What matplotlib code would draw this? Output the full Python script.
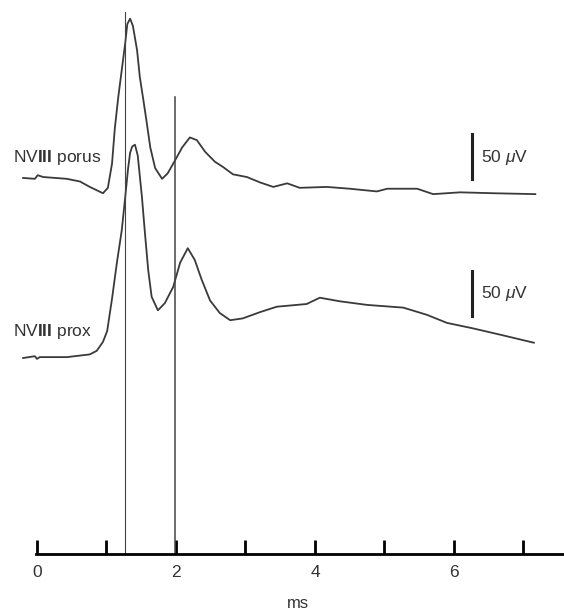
import matplotlib.pyplot as plt
import numpy as np

plt.rcParams['font.family'] = ['Liberation Sans', 'DejaVu Sans']
plt.rcParams['mathtext.fontset'] = 'custom'
plt.rcParams['mathtext.rm'] = 'Liberation Sans'
plt.rcParams['mathtext.it'] = 'Liberation Sans:italic'
plt.rcParams['mathtext.bf'] = 'Liberation Sans:bold'

# traces: time (ms) and amplitude (uV, relative to each trace's start)
porus_t = [-0.20, -0.03, 0.01, 0.09, 0.43, 0.62, 0.76, 0.95, 1.02, 1.08,
           1.12, 1.17, 1.22, 1.27, 1.30, 1.34, 1.38, 1.44, 1.48, 1.53,
           1.58, 1.63, 1.70, 1.80, 1.88, 1.99, 2.09, 2.20, 2.30, 2.42,
           2.56, 2.68, 2.82, 3.02, 3.21, 3.40, 3.60, 3.78, 4.17, 4.50,
           4.89, 5.04, 5.47, 5.70, 6.09, 6.56, 7.17]
porus_v = [-1, -2, 2, 0, -2, -5, -11, -18, -12, 15,
           54, 89, 119, 149, 170, 176, 168, 141, 111, 86,
           60, 33, 10, -2, 4, 19, 33, 44, 41, 28,
           17, 11, 3, 0, -6, -11, -7, -12, -11, -13,
           -16, -13, -13, -19, -17, -18, -19]

prox_t = [-0.20, -0.03, 0.00, 0.04, 0.43, 0.76, 0.86, 0.95, 1.01, 1.08,
          1.15, 1.22, 1.27, 1.31, 1.34, 1.37, 1.41, 1.45, 1.51, 1.55,
          1.60, 1.65, 1.74, 1.84, 1.96, 2.06, 2.17, 2.27, 2.37, 2.49,
          2.63, 2.78, 2.96, 3.21, 3.45, 3.88, 4.07, 4.36, 4.75, 5.27,
          5.61, 5.90, 6.27, 6.66, 7.15]
prox_v = [0, 2, -1, 1, 1, 4, 8, 18, 30, 66,
          106, 142, 179, 210, 228, 235, 237, 225, 179, 142,
          98, 68, 53, 61, 79, 106, 122, 109, 87, 64,
          50, 42, 44, 51, 57, 60, 67, 63, 59, 56,
          48, 39, 33, 26, 17]

marker_t = [1.27, 1.99]
ticks_major = [0, 2, 4, 6]
ticks_minor = [1, 3, 5, 7]
scale_uv = 50

fig = plt.figure(figsize=(5.64, 6.11), dpi=100)
ax = fig.add_axes([0, 0, 1, 1])
ax.set_xlim(-0.532, 7.583)
ax.set_ylim(-63.3, 615.6)

porus_off = 418.9
prox_off = 217.8
ax.plot(porus_t, np.array(porus_v) + porus_off, color='#3a3a3a', lw=1.3)
ax.plot(prox_t, np.array(prox_v) + prox_off, color='#3a3a3a', lw=1.3)

ax.plot([marker_t[0]] * 2, [0, 602], color='#444444', lw=0.8)
ax.plot([marker_t[1]] * 2, [0, 508], color='#444444', lw=1.1)

# scale bars
ax.plot([6.26, 6.26], [416.7, 416.7 + scale_uv], color='#222222', lw=2.2)
ax.plot([6.26, 6.26], [264.4, 264.4 + scale_uv], color='#222222', lw=2.2)
ax.text(6.39, 441, '%d $\\mu$V' % scale_uv, fontsize=12.5, va='center', color='#333333')
ax.text(6.39, 289, '%d $\\mu$V' % scale_uv, fontsize=12.5, va='center', color='#333333')

ax.text(-0.345, 441, 'NV$\\mathbf{III}$ porus', fontsize=12.5, va='center', color='#333333')
ax.text(-0.345, 247.8, 'NV$\\mathbf{III}$ prox', fontsize=12.5, va='center', color='#333333')

for s in ['left', 'right', 'top']:
    ax.spines[s].set_visible(False)
ax.spines['bottom'].set_position(('data', 0))
ax.spines['bottom'].set_bounds(-0.015, 7.6)
ax.spines['bottom'].set_linewidth(2)
ax.set_yticks([])
ax.set_xticks(ticks_major)
ax.set_xticks(ticks_minor, minor=True)
ax.tick_params(axis='x', which='both', direction='in', length=10, width=2,
               labelsize=12.5, pad=8, labelcolor='#333333')
ax.set_xlabel('ms', fontsize=12, color='#333333')
ax.xaxis.set_label_coords(298 / 564, 1 - 596 / 611)

fig.savefig('out.png', dpi=100)
